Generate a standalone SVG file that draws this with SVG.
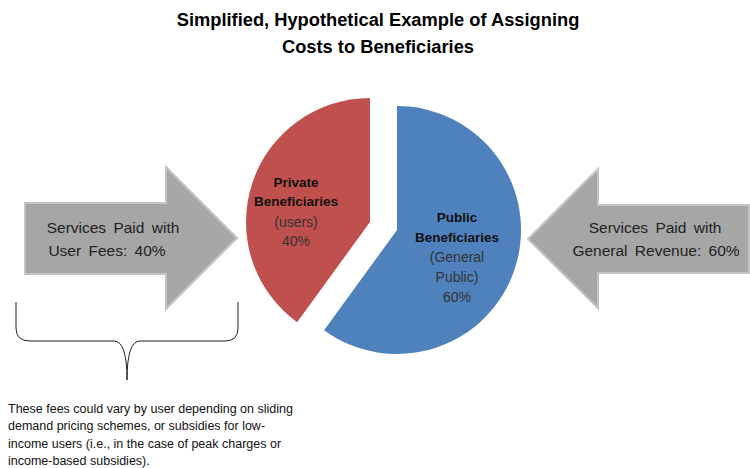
<svg xmlns="http://www.w3.org/2000/svg" width="750" height="468" viewBox="0 0 750 468">
<style>
text{font-family:"Liberation Sans",Arial,sans-serif;fill:#1a1a1a}
.title{font-size:18.3px;font-weight:bold;text-anchor:middle;fill:#000}
.arr{fill:#a6a6a6;stroke:#c4c4c4;stroke-width:2}
.atxt{font-size:15.5px;text-anchor:middle;fill:#222;word-spacing:3px}
.lb{font-size:13.5px;font-weight:bold;text-anchor:middle;fill:#111}
.ln{font-size:14px;text-anchor:middle;fill:#333}
.note{font-size:12.5px;fill:#111}
.brace{fill:none;stroke:#222;stroke-width:1}
</style>
<rect width="750" height="468" fill="#fff"/>
<g id="title">
<text class="title" x="378" y="26">Simplified, Hypothetical Example of Assigning</text>
<text class="title" x="378" y="53">Costs to Beneficiaries</text>
</g>
<g id="private">
<path d="M370,222 L297.1,322.3 A124,124 0 0 1 370,98 Z" fill="#c0504d"/>
<text class="lb" x="296" y="187">Private</text>
<text class="lb" x="296" y="206">Beneficiaries</text>
<text class="ln" x="296" y="227">(users)</text>
<text class="ln" x="296" y="246">40%</text>
</g>
<g id="public">
<path d="M397,230 L397,106 A124,124 0 1 1 324.1,330.3 Z" fill="#4f81bd"/>
<text class="lb" x="457" y="222">Public</text>
<text class="lb" x="457" y="242">Beneficiaries</text>
<text class="ln" x="457" y="262">(General</text>
<text class="ln" x="457" y="282">Public)</text>
<text class="ln" x="457" y="302">60%</text>
</g>
<g id="userfees">
<polygon class="arr" points="25,203 166,203 166,167 237,238 166,309 166,274 25,274"/>
<text class="atxt" x="113" y="233">Services Paid with</text>
<text class="atxt" x="107" y="256">User Fees: 40%</text>
</g>
<g id="genrev">
<polygon class="arr" points="749,205 598,205 598,169 528,239 598,308 598,273 749,273"/>
<text class="atxt" x="655" y="233">Services Paid with</text>
<text class="atxt" x="656" y="256">General Revenue: 60%</text>
</g>
<g id="connectors">
<path class="brace" d="M16,302 L16,328 Q16,341 30,341 L114,341 Q127,341 127,380 Q127,341 140,341 L225,341 Q238,341 238,328 L238,302"/>
</g>
<g id="note">
<text class="note" x="8" y="413">These fees could vary by user depending on sliding</text>
<text class="note" x="8" y="430">demand pricing schemes, or subsidies for low-</text>
<text class="note" x="8" y="448">income users (i.e., in the case of peak charges or</text>
<text class="note" x="8" y="465">income-based subsidies).</text>
</g>
</svg>
